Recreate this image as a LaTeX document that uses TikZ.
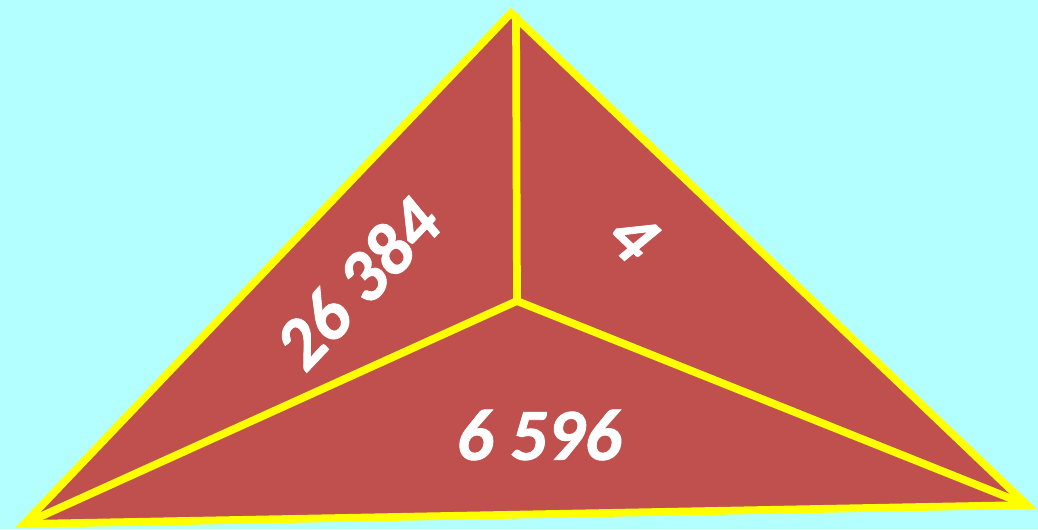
\documentclass[tikz,border=0pt]{standalone}
\usepackage{fontspec}
\setmainfont{Carlito}
\newfontfamily\numfont{Carlito-BoldItalic.ttf}[BoldFont=Carlito-BoldItalic.ttf,BoldFeatures={FakeBold=1.2}]
\definecolor{bg}{HTML}{B3FFFF}
\definecolor{face}{HTML}{C0504D}
\definecolor{edge}{HTML}{FFFF00}
\begin{document}
\begin{tikzpicture}[x=0.75pt,y=-0.75pt,
  edgeline/.style={draw=edge,line width=5.8pt,line join=miter},
  num/.style={text=white,font=\numfont\bfseries\fontsize{55}{60}\selectfont,inner sep=0pt}]
\fill[bg] (0,0) rectangle (1038,529);
\useasboundingbox (0,0) rectangle (1038,529);
\coordinate (T) at (511,13);
\coordinate (L) at (24,524);
\coordinate (R) at (1027,505);
\coordinate (C) at (517,301);
\coordinate (Ttop) at (516,14);
\fill[face] (T) -- (R) -- (L) -- cycle;
\draw[edgeline] (C) -- (Ttop);
\draw[edgeline] (C) -- (L);
\draw[edgeline] (C) -- (R);
\draw[edgeline] (T) -- (R) -- (L) -- cycle;
\node[num,rotate=46.6] (a) at (357,283) {26 384};
\node[num,rotate=-43.5] (b) at (633,236) {4};
\node[num] (c) at (539,435) {6 596};
\end{tikzpicture}
\end{document}
